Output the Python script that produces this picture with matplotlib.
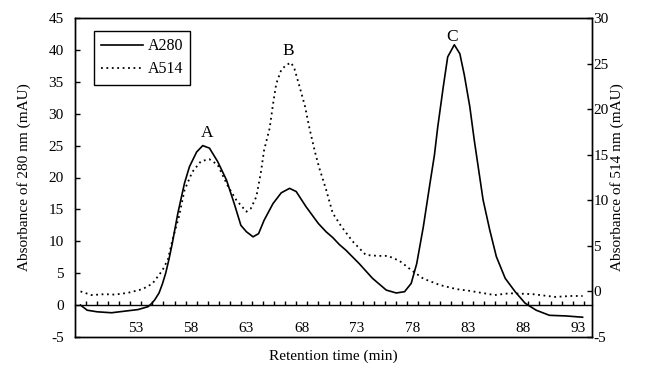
import numpy as np
import matplotlib
matplotlib.use("Agg")
import matplotlib.pyplot as plt

plt.rcParams['font.family'] = ['Liberation Serif', 'DejaVu Serif']
plt.rcParams['axes.unicode_minus'] = False

# A280 (left axis)
t280 = [48.0, 48.6, 49.5, 50.8, 52.0, 53.2, 54.1, 54.4, 54.7, 55.1, 55.4, 55.7, 56.0, 56.3,
        56.8, 57.4, 57.85, 58.5, 59.05, 59.66, 60.4, 61.2, 61.9, 62.5, 63.0, 63.6, 64.1,
        64.6, 65.4, 66.15, 66.9, 67.5, 68.4, 69.5, 70.2, 70.8, 71.4, 72.0, 73.2, 74.4,
        75.65, 76.55, 77.3, 77.9, 78.4, 79.0, 79.6, 80.0, 80.3, 80.8, 81.2, 81.8, 82.3,
        82.7, 83.2, 83.6, 84.0, 84.4, 85.0, 85.6, 86.4, 87.3, 88.2, 89.2, 90.4, 91.9, 93.4]
a280 = [0.0, -0.8, -1.05, -1.2, -0.95, -0.7, -0.25, 0.2, 0.8, 1.9, 3.3, 5.0, 7.2, 9.7,
        14.4, 19.1, 21.7, 24.0, 25.0, 24.6, 22.5, 19.6, 15.9, 12.5, 11.5, 10.7, 11.2,
        13.3, 15.9, 17.6, 18.3, 17.8, 15.4, 12.8, 11.5, 10.6, 9.5, 8.6, 6.5, 4.2,
        2.35, 1.9, 2.1, 3.4, 6.5, 12.3, 19.1, 23.5, 27.9, 34.2, 38.9, 40.8, 39.4,
        36.1, 31.1, 25.9, 21.2, 16.5, 11.8, 7.6, 4.2, 2.1, 0.3, -0.8, -1.6, -1.7, -1.9]

# A514 (right axis)
t514 = [48.0, 49.0, 50.2, 51.1, 52.3, 53.6, 54.5, 55.4, 55.9, 56.3, 56.9, 57.4, 58.1, 58.9,
        59.66, 60.4, 61.3, 62.1, 63.0, 63.4, 63.9, 64.3, 64.6, 65.1, 65.4, 65.7, 66.15,
        66.6, 67.05, 67.35, 67.8, 68.3, 68.7, 69.2, 69.6, 70.2, 70.8, 71.6, 72.6, 73.8,
        74.9, 75.8, 76.85, 77.9, 79.0, 80.5, 82.0, 83.0, 85.45, 86.8, 88.9, 90.9, 92.4, 93.4]
a514 = [0.0, -0.4, -0.3, -0.35, -0.15, 0.25, 0.85, 2.3, 3.5, 5.6, 8.2, 11.1, 13.1, 14.3,
        14.5, 13.9, 11.6, 10.0, 8.75, 9.1, 10.4, 13.0, 15.5, 17.9, 20.5, 22.8, 24.3,
        24.85, 25.1, 24.4, 22.5, 20.3, 17.9, 15.3, 13.5, 11.2, 8.6, 7.1, 5.5, 4.0,
        3.9, 3.9, 3.35, 2.35, 1.4, 0.7, 0.25, 0.1, -0.4, -0.2, -0.3, -0.6, -0.5, -0.5]

peak_labels = ['A', 'B', 'C']
peak_t = [59.4, 66.8, 81.6]
peak_y = [27.0, 39.8, 42.0]

xtick_labels = [53, 58, 63, 68, 73, 78, 83, 88, 93]
left_ticks = list(range(-5, 46, 5))
right_ticks = list(range(-5, 31, 5))

fig = plt.figure(figsize=(6.47, 3.74), dpi=100)
ax = fig.add_axes([75/647, 37/374, 517/647, 319/374])
ax2 = ax.twinx()

l1, = ax.plot(t280, a280, color='black', lw=1.2, label='A280')
l2, = ax2.plot(t514, a514, color='black', lw=1.3, linestyle=(0, (1, 2)), label='A514')

ax.set_xlim(47.5, 94.25)
ax.set_ylim(-5, 45)
ax2.set_ylim(-5, 30)
ax.set_yticks(left_ticks)
ax2.set_yticks(right_ticks)
ax.set_xticks([])

for a in (ax, ax2):
    for s in a.spines.values():
        s.set_linewidth(1.0)
        s.set_color('black')

ax.tick_params(axis='y', direction='in', length=3.5, width=1.0, labelsize=11, pad=8)
ax2.tick_params(axis='y', direction='in', length=3.5, width=1.0, labelsize=11, pad=1)

sec = ax.secondary_xaxis(0.1)
sec.spines['bottom'].set_linewidth(1.0)
sec.set_xticks(xtick_labels)
sec.set_xticks(np.arange(48.5, 94, 1.0), minor=True)
sec.tick_params(which='major', length=0, labelsize=11, pad=12)
sec.tick_params(which='minor', direction='in', length=3, width=1.0)

ax.set_xlabel('Retention time (min)', fontsize=11, labelpad=9)
ax.set_ylabel('Absorbance of 280 nm (mAU)', fontsize=11, labelpad=13)
ax2.set_ylabel('Absorbance of 514 nm (mAU)', fontsize=11, labelpad=1)

for lab, tx, ty in zip(peak_labels, peak_t, peak_y):
    ax.text(tx, ty, lab, ha='center', va='center', fontsize=12.5)

leg = ax.legend(handles=[l1, l2], loc='upper left', bbox_to_anchor=(0.037, 0.959),
                borderaxespad=0, fancybox=False, edgecolor='black', fontsize=11.5,
                handlelength=2.6, handletextpad=0.3, borderpad=0.45, labelspacing=0.45,
                framealpha=1)
leg.get_frame().set_linewidth(1.0)

fig.savefig('out.png', dpi=100)
